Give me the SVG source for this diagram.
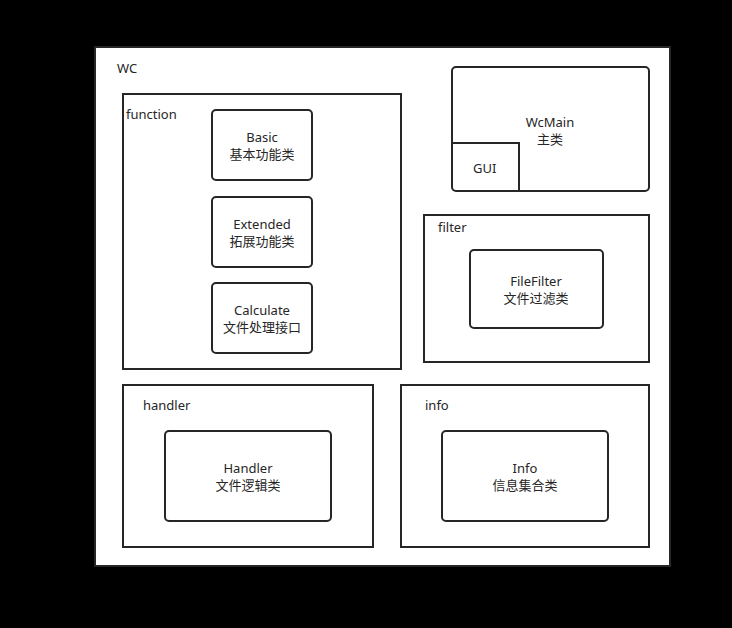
<svg xmlns="http://www.w3.org/2000/svg" width="732" height="628" viewBox="0 0 732 628">
<style>
.c{fill:#fff;stroke:#262626;stroke-width:2}
.n{fill:#fff;stroke:#262626;stroke-width:2}
text{font-family:"Noto Sans","Noto Sans CJK SC",sans-serif;font-size:13px;fill:#262626}
.m{text-anchor:middle}
</style>
<rect x="0" y="0" width="732" height="628" fill="#000"/>
<g id="WC">
<rect x="95" y="47" width="575" height="519" fill="#fff" stroke="#262626" stroke-width="2"/>
<text x="117" y="73">WC</text>
</g>
<g id="function">
<rect class="c" x="123" y="94" width="278" height="275"/>
<text x="126" y="119">function</text>
</g>
<g id="Basic">
<rect class="n" x="212" y="110" width="100" height="70" rx="4"/>
<text class="m" x="262" y="142">Basic</text>
<text class="m" x="262" y="159">基本功能类</text>
</g>
<g id="Extended">
<rect class="n" x="212" y="197" width="100" height="70" rx="4"/>
<text class="m" x="262" y="229">Extended</text>
<text class="m" x="262" y="246">拓展功能类</text>
</g>
<g id="Calculate">
<rect class="n" x="212" y="283" width="100" height="70" rx="4"/>
<text class="m" x="262" y="315">Calculate</text>
<text class="m" x="262" y="332">文件处理接口</text>
</g>
<g id="WcMain">
<rect class="n" x="452" y="67" width="197" height="124" rx="4"/>
<text class="m" x="550" y="127">WcMain</text>
<text class="m" x="550" y="144">主类</text>
</g>
<g id="GUI">
<path d="M452 143 H519 V191" fill="none" stroke="#262626" stroke-width="2"/>
<text x="473" y="173">GUI</text>
</g>
<g id="filter">
<rect class="c" x="424" y="215" width="225" height="147"/>
<text x="438" y="232">filter</text>
</g>
<g id="FileFilter">
<rect class="n" x="470" y="250" width="133" height="78" rx="4"/>
<text class="m" x="536" y="286">FileFilter</text>
<text class="m" x="536" y="303">文件过滤类</text>
</g>
<g id="handler">
<rect class="c" x="123" y="385" width="250" height="162"/>
<text x="143" y="410">handler</text>
</g>
<g id="Handler">
<rect class="n" x="165" y="431" width="166" height="90" rx="4"/>
<text class="m" x="248" y="473">Handler</text>
<text class="m" x="248" y="490">文件逻辑类</text>
</g>
<g id="info">
<rect class="c" x="401" y="385" width="248" height="162"/>
<text x="425" y="410">info</text>
</g>
<g id="Info">
<rect class="n" x="442" y="431" width="166" height="90" rx="4"/>
<text class="m" x="525" y="473">Info</text>
<text class="m" x="525" y="490">信息集合类</text>
</g>
<g id="connectors"></g>
</svg>
